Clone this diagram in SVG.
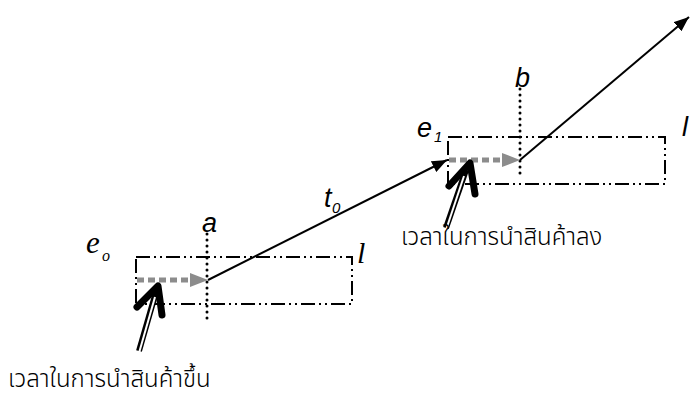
<svg xmlns="http://www.w3.org/2000/svg" width="691" height="399" viewBox="0 0 691 399">
<style>
.box{fill:none;stroke:#000;stroke-width:2;stroke-dasharray:14 4 2 4 2 4}
.dots{fill:none;stroke:#000;stroke-width:3;stroke-linecap:round;stroke-dasharray:0 6}
.line{fill:none;stroke:#000;stroke-width:2}
.grey{fill:none;stroke:#8c8c8c;stroke-width:5;stroke-dasharray:7 4}
.greyhead{fill:#8c8c8c}
.vee{fill:none;stroke:#000;stroke-width:7;stroke-linecap:round;stroke-linejoin:round}
.shaftout{stroke:#000;stroke-width:6}
.shaftin{stroke:#fff;stroke-width:2}
.serif{font-family:"Liberation Serif","Times New Roman",serif;font-style:italic;fill:#000}
.sans{font-family:"Liberation Sans",Arial,sans-serif;font-style:italic;fill:#000}
.thai{font-family:"Noto Sans Thai","Noto Sans","DejaVu Sans",sans-serif;font-size:24px;fill:#000;font-weight:300}
</style>
<defs>
<marker id="ah" markerUnits="userSpaceOnUse" markerWidth="16" markerHeight="12" refX="15" refY="6" orient="auto">
<path d="M0,0 L15,6 L0,12 z" fill="#000"/>
</marker>
<clipPath id="clipLo"><rect x="340" y="230" width="60" height="36"/></clipPath>
</defs>
<rect width="691" height="399" fill="#fff"/>

<g id="box-origin">
<rect class="box" x="136" y="257" width="216" height="47"/>
<line class="dots" x1="207" y1="234" x2="207" y2="322"/>
</g>
<g id="box-dest">
<rect class="box" x="448" y="137" width="217" height="47"/>
<line class="dots" x1="520" y1="89" x2="520" y2="178"/>
</g>

<g id="connectors">
<line class="line" x1="208" y1="280" x2="447" y2="160" marker-end="url(#ah)"/>
<line class="line" x1="520" y1="160" x2="689" y2="17" marker-end="url(#ah)"/>
<line class="grey" x1="137" y1="280" x2="192" y2="280"/>
<path class="greyhead" d="M190,273 L208,280 L190,287 z"/>
<line class="grey" x1="449" y1="160" x2="504" y2="160"/>
<path class="greyhead" d="M502,153 L520,160 L502,167 z"/>
<g id="load-arrow">
<line class="shaftout" x1="139" y1="351" x2="156" y2="292"/>
<line class="shaftin" x1="139" y1="353" x2="155" y2="297"/>
<polyline class="vee" points="137,307 158,286 162,315"/>
</g>
<g id="unload-arrow">
<line class="shaftout" x1="446" y1="228" x2="466" y2="170"/>
<line class="shaftin" x1="446" y1="230" x2="464" y2="176"/>
<polyline class="vee" points="449,186 470,163 475,194"/>
</g>
</g>

<g id="labels">
<text class="serif" x="86" y="253" font-size="31">e</text>
<text class="serif" x="102" y="261" font-size="16">o</text>
<text class="sans" x="202" y="232" font-size="27">a</text>
<g clip-path="url(#clipLo)">
<text class="serif" x="357" y="263" font-size="30">l</text>
<text class="serif" x="367" y="274" font-size="16">o</text>
</g>
<text class="sans" x="324" y="207" font-size="27">t</text>
<text class="sans" x="332" y="213" font-size="15">0</text>
<text class="sans" x="417" y="137" font-size="27">e</text>
<text class="sans" x="434" y="142" font-size="15">1</text>
<text class="sans" x="515" y="87" font-size="27">b</text>
<text class="sans" x="682" y="136" font-size="27">l</text>
<text class="thai" x="401" y="245">เวลาในการนำสินค้าลง</text>
<text class="thai" x="8" y="387">เวลาในการนำสินค้าขึ้น</text>
</g>
</svg>
